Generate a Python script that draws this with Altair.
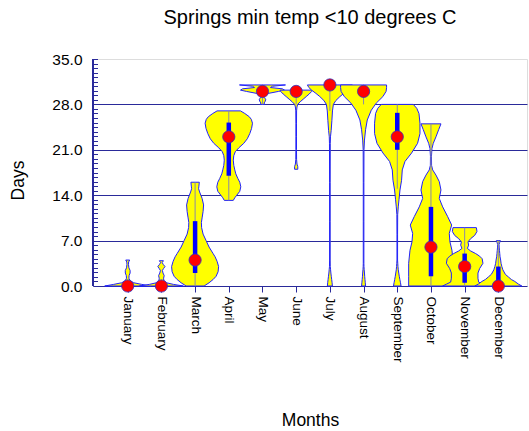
import altair as alt
import pandas as pd

MONTHS = ["January", "February", "March", "April", "May", "June", "July",
          "August", "September", "October", "November", "December"]

# Summary statistics of days per month with a minimum temperature below 10 C
MEDIAN = [0, 0, 4, 23, 30, 30, 31, 30, 23, 6, 3, 0]
Q1 = [0, 0, 2, 17, 30, 29.5, 30.5, 29.5, 21, 1.5, 0.5, 0]
Q3 = [0.5, 0.5, 10, 25.2, 30.8, 30.2, 31, 30.8, 26.7, 12.2, 5, 3]
WHISKER_LO = [0, 0, 0, 13.2, 28, 28, 27, 28, 15, 0, 0, 0]
WHISKER_HI = [1, 1, 16, 27, 31, 30.2, 31, 31, 28, 25, 9, 7]

# Violin outlines: (days, relative density)
january = [(0, 23), (0.25, 14), (0.5, 6), (0.8, 2.5), (1.2, 1.2), (1.6, 1.4),
           (2.0, 2.4), (2.4, 2.4), (2.8, 1.2), (3.3, 0.8), (3.7, 0.9), (4.0, 2.0)]
february = [(0, 22), (0.25, 12), (0.5, 5), (0.8, 2.5), (1.2, 2.2), (1.6, 2.8),
            (2.0, 1.6), (2.4, 1.0), (2.7, 2.2), (3.0, 3.6), (3.3, 2.0),
            (3.6, 0.8), (3.9, 2.0)]
march = [(0, 9), (0.5, 14), (1.0, 18), (1.5, 21), (2.2, 23), (3.0, 23.5),
         (3.8, 22), (4.5, 20), (5.0, 18), (6.0, 14), (7.0, 11), (8.0, 8),
         (9.0, 6.5), (9.8, 6.3), (10.5, 7), (11.5, 8), (12.5, 8.5), (13.5, 7),
         (14.5, 4.5), (15.0, 3.5), (15.4, 3.8), (16.0, 4.2)]
april = [(13.2, 4.5), (13.6, 6), (14.0, 8), (14.6, 11), (15.3, 12), (16.0, 11),
         (16.6, 9), (17.3, 7), (17.9, 6), (18.6, 5), (19.4, 4.5), (20.1, 5),
         (20.7, 6.5), (21.3, 10), (22.0, 15), (22.7, 18.5), (23.5, 21),
         (24.3, 22.8), (25.1, 23.7), (25.7, 22.5), (26.1, 20.5), (26.6, 16),
         (27.0, 11.7)]
may = [(28.0, 2.5), (28.2, 1.5), (28.5, 2.8), (28.8, 3.2), (29.1, 1.5),
       (29.4, 1.5), (29.7, 6), (30.0, 16), (30.2, 22), (30.4, 20), (30.6, 8),
       (30.8, 10), (31.0, 23)]
june = [(18.0, 1.6), (18.4, 1.6), (18.8, 0.8), (19.5, 0.4), (21, 0.3), (23, 0.3),
        (25, 0.3), (27, 0.4), (27.6, 0.8), (28.0, 1.5), (28.4, 4), (28.8, 7),
        (29.2, 10), (29.6, 13), (30.0, 15.5), (30.2, 16)]
july = [(0, 2.5), (0.5, 2.2), (1.0, 1.8), (1.5, 1.4), (2.0, 1.0), (2.5, 0.7),
        (3.0, 0.4), (4, 0.3), (10, 0.3), (16, 0.3), (22, 0.4), (23, 0.6),
        (24, 1.3), (25.5, 2), (27, 2.6), (28, 3.5), (28.6, 6), (29.2, 10),
        (29.7, 14), (30.2, 18.3), (30.6, 21), (31.0, 22.5)]
august = [(0, 2.0), (0.5, 1.7), (1.0, 1.4), (1.5, 1.1), (2.0, 0.9), (2.5, 0.6),
          (3.0, 0.4), (3.5, 0.3), (10, 0.3), (16, 0.3), (21, 0.4), (22.5, 0.9),
          (24.1, 2), (25.6, 3.7), (27.1, 7.7), (28.2, 12.7), (29.2, 19.3),
          (30.0, 22.5), (30.6, 23), (31.0, 23)]
september = [(0, 3.8), (0.5, 3.2), (1.0, 2.6), (1.5, 2.0), (2.0, 1.5), (2.5, 1.0),
             (3.0, 0.7), (3.5, 0.5), (4.0, 0.3), (8, 0.3), (11, 0.4), (12.2, 1),
             (13.3, 1.7), (14.8, 2.7), (16.3, 4.3), (17.9, 5), (19.2, 7.7),
             (20.5, 14.3), (22.0, 20.3), (23.5, 22.7), (25.1, 22.7),
             (26.6, 21.7), (27.4, 19.5), (28.0, 16)]
october = [(0, 22.3), (1.5, 22.3), (3.5, 22.3), (5.5, 21), (6.8, 19), (8.1, 18.3),
           (9.4, 20.7), (10.7, 16.7), (12.2, 11.7), (13.5, 8.3), (14.8, 10),
           (16.1, 8.3), (17.1, 5), (17.9, 1.7), (18.6, 0.6), (20.0, 0.5),
           (21.2, 1), (22.0, 2.3), (23.0, 5), (24.1, 7.7), (25.0, 10)]
november = [(0, 22), (0.3, 18), (0.6, 14), (1.2, 13.3), (2.0, 13.3), (2.7, 15),
            (3.5, 18.3), (4.2, 17.5), (4.6, 15), (5.0, 11), (5.4, 6), (5.8, 2.7),
            (6.3, 4), (6.8, 3.3), (7.3, 6), (7.8, 10), (8.4, 12.3), (9.0, 11.7)]
december = [(0, 23.5), (0.3, 20), (0.7, 16.5), (1.0, 13), (1.4, 10), (1.8, 7),
            (2.5, 4.5), (3.0, 3.5), (3.5, 2.7), (4.0, 2.3), (4.5, 1.7), (5.0, 1.4),
            (5.5, 1.1), (6.0, 0.8), (6.4, 0.7), (6.7, 1.3), (7.0, 2)]

PROFILES = [january, february, march, april, may, june, july, august,
            september, october, november, december]

Y_MAX = 35
MAJOR_STEP = 7
MINOR_STEP = 0.7

# density units -> month units on the x scale
DENSITY_SCALE = 1 / 33.7

W, H = 434, 227
TICK_LEN = 4.5
NAVY = "#2a2a9a"
FONT = "Liberation Sans"

rows = []
for m, prof in enumerate(PROFILES, start=1):
    for day, dens in prof:
        rows.append({"month": m, "day": day,
                     "lo": m - dens * DENSITY_SCALE,
                     "hi": m + dens * DENSITY_SCALE})
violin_df = pd.DataFrame(rows)

stats_df = pd.DataFrame({
    "month": list(range(1, 13)),
    "name": MONTHS,
    "median": MEDIAN,
    "q1": Q1,
    "q3": Q3,
    "wlo": WHISKER_LO,
    "whi": WHISKER_HI,
})

x_scale = alt.Scale(domain=[-0.03, 12.85], nice=False, zero=False)
y_scale = alt.Scale(domain=[0, Y_MAX], nice=False, zero=False)

# month number -> month name for the x tick labels
month_label = "''"
for i in range(len(MONTHS), 0, -1):
    month_label = f"datum.value == {i} ? '{MONTHS[i - 1]}' : ({month_label})"

# y ticks every 0.7 days; labels and grid lines only on multiples of 7
y_ticks = [round(i * MINOR_STEP, 1) for i in range(int(Y_MAX / MINOR_STEP) + 1)]
is_major = f"abs(datum.value / {MAJOR_STEP} - round(datum.value / {MAJOR_STEP})) < 0.001"
is_inner_major = f"({is_major}) && datum.value > 0.1 && datum.value < {Y_MAX - 0.1}"

y_axis = alt.Axis(
    orient="left", values=y_ticks, tickCount=len(y_ticks) + 5,
    offset=-TICK_LEN, domain=False,
    ticks=True, tickSize=TICK_LEN, tickColor=NAVY,
    labelExpr=f"({is_major}) ? format(datum.value, '.1f') : ''",
    labelOverlap=False, labelFlush=False, labelPadding=11,
    labelFont=FONT, labelFontSize=15.5, labelColor="black",
    grid=True, gridColor=NAVY, gridWidth=1,
    gridOpacity={"condition": {"test": is_inner_major, "value": 1}, "value": 0},
    titleFont=FONT, titleFontSize=17.5, titleFontWeight="normal",
    titleColor="black", titleAngle=270, titleBaseline="middle",
    titleX=18 - 93 - TICK_LEN, titleY=121,
)

x_axis = alt.Axis(
    orient="bottom", values=list(range(1, 13)), tickCount=20,
    labelExpr=month_label,
    labelAngle=90, labelPadding=4, labelOverlap=False, labelFlush=False,
    tickSize=6, tickColor=NAVY, domainColor=NAVY, grid=False,
    labelFont=FONT, labelFontSize=13.5, labelColor="black",
    titleFont=FONT, titleFontSize=17.5, titleFontWeight="normal",
    titleColor="black", titleBaseline="middle", titleY=134,
)

violins = alt.Chart(violin_df).mark_area(
    orient="horizontal", fill="#FFFF00", stroke="#2020FF", strokeWidth=1,
    strokeJoin="round",
).encode(
    y=alt.Y("day:Q", scale=y_scale, title="Days", axis=y_axis),
    x=alt.X("lo:Q", scale=x_scale, title="Months", axis=x_axis),
    x2="hi:Q",
    detail="month:N",
)

whiskers = alt.Chart(stats_df).mark_rule(color="#8a8aa6", strokeWidth=1).encode(
    x=alt.X("month:Q", scale=x_scale),
    y=alt.Y("wlo:Q", scale=y_scale),
    y2="whi:Q",
)

iqr = alt.Chart(stats_df).mark_rule(color="#0000FF", strokeWidth=4.5).encode(
    x=alt.X("month:Q", scale=x_scale),
    y=alt.Y("q1:Q", scale=y_scale),
    y2="q3:Q",
)

medians = alt.Chart(stats_df).mark_point(
    filled=True, shape="circle", size=150, fill="#FF0000", stroke="#3030C0",
    strokeWidth=0.8, opacity=1,
).encode(
    x=alt.X("month:Q", scale=x_scale),
    y=alt.Y("median:Q", scale=y_scale),
)

# vertical axis line along the left edge of the plot
y_domain_line = alt.Chart(stats_df).mark_rule(color=NAVY, strokeWidth=1).encode(
    x=alt.value(0), y=alt.value(0), y2=alt.value(H),
)

chart = alt.layer(violins, whiskers, iqr, medians, y_domain_line).properties(
    width=W, height=H,
    autosize=alt.AutoSizeParams(type="none"),
    padding={"left": 93, "top": 59, "right": 2, "bottom": 145},
    title=alt.TitleParams("Springs min temp <10 degrees C", font=FONT,
                          fontSize=20, fontWeight="normal", color="black",
                          anchor="middle", offset=24),
).configure_view(stroke=None).configure(background="white")

chart.save("out.html", embed_options={"renderer": "svg", "actions": False})
